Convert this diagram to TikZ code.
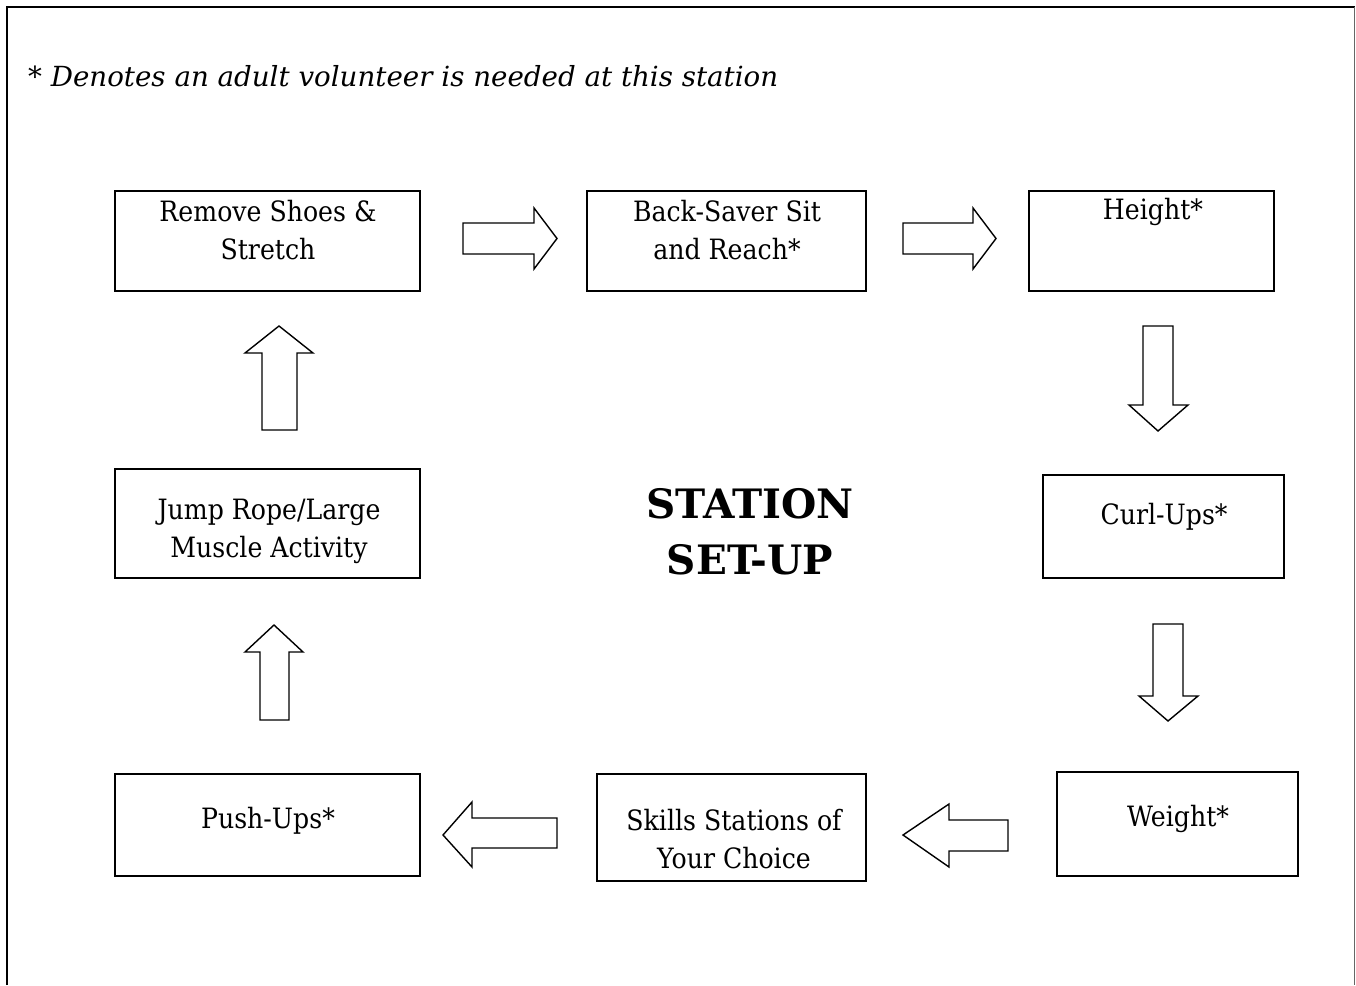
\documentclass[tikz,border=0pt]{standalone}
\usepackage{fontspec}
\setmainfont{DejaVu Serif}[FakeStretch=0.9]
\newfontfamily\widefont{DejaVu Serif}
\begin{document}
\begin{tikzpicture}[x=1pt,y=-1pt,
  box/.style={draw=black,line width=1.3pt,minimum width=#1,inner sep=0pt},
  boxtext/.style={align=center,inner sep=0pt,font=\fontsize{28}{38}\selectfont},
  blk/.style={draw=black,line width=1.4pt,fill=white,line join=miter}]
\useasboundingbox (0,0) rectangle (1356,985);
% frame
\draw[line width=2.6pt] (7,985) -- (7,7) -- (1355,7);
\draw[line width=1.5pt,black!60] (1354.5,7) -- (1354.5,985);
% title
\node[anchor=west,inner sep=0pt,font=\widefont\fontsize{27.7}{32}\selectfont\itshape] (title) at (28,76) {* Denotes an adult volunteer is needed at this station};
\node[align=center,inner sep=0pt,font=\widefont\fontsize{40.5}{56}\selectfont\bfseries] (main) at (750,532) {STATION\\SET-UP};
% boxes
\node[box=305pt,minimum height=100pt] (b1) at (267.5,241) {};
\node[box=279pt,minimum height=100pt] (b2) at (726.5,241) {};
\node[box=245pt,minimum height=100pt] (b3) at (1151.5,241) {};
\node[box=241pt,minimum height=103pt] (b4) at (1163.5,526.5) {};
\node[box=241pt,minimum height=104pt] (b5) at (1177.5,824) {};
\node[box=269pt,minimum height=107pt] (b6) at (731.5,827.5) {};
\node[box=305pt,minimum height=102pt] (b7) at (267.5,825) {};
\node[box=305pt,minimum height=109pt] (b8) at (267.5,523.5) {};
% texts
\node[boxtext] (t1) at (268,230) {Remove Shoes \&\\Stretch};
\node[boxtext] (t2) at (727,230) {Back-Saver Sit\\and Reach*};
\node[boxtext] (t3) at (1153,212) {Height*};
\node[boxtext] (t4) at (1164,517) {Curl-Ups*};
\node[boxtext] (t5) at (1178,819) {Weight*};
\node[boxtext] (t6) at (734,839) {Skills Stations of\\Your Choice};
\node[boxtext] (t7) at (268,821) {Push-Ups*};
\node[boxtext] (t8) at (269,531) {Jump Rope/Large\\Muscle Activity};
% block arrows
% right
\draw[blk] (463,223) -- (534,223) -- (534,208) -- (557,238.5) -- (534,269) -- (534,254) -- (463,254) -- cycle;
\draw[blk] (903,223) -- (973,223) -- (973,208) -- (996,238.5) -- (973,269) -- (973,254) -- (903,254) -- cycle;
% down
\draw[blk] (1143,326) -- (1173,326) -- (1173,405) -- (1188,405) -- (1158,431) -- (1129,405) -- (1143,405) -- cycle;
\draw[blk] (1153,624) -- (1183,624) -- (1183,696) -- (1198,696) -- (1168,721) -- (1139,696) -- (1153,696) -- cycle;
% left
\draw[blk] (1008,820) -- (949,820) -- (949,804) -- (903,835) -- (949,867) -- (949,851) -- (1008,851) -- cycle;
\draw[blk] (557,818) -- (472,818) -- (472,802) -- (443,835) -- (472,867) -- (472,848) -- (557,848) -- cycle;
% up
\draw[blk] (262,430) -- (262,353) -- (245,353) -- (279,326) -- (313,353) -- (297,353) -- (297,430) -- cycle;
\draw[blk] (260,720) -- (260,652) -- (245,652) -- (274,625) -- (303,652) -- (289,652) -- (289,720) -- cycle;
\end{tikzpicture}
\end{document}
